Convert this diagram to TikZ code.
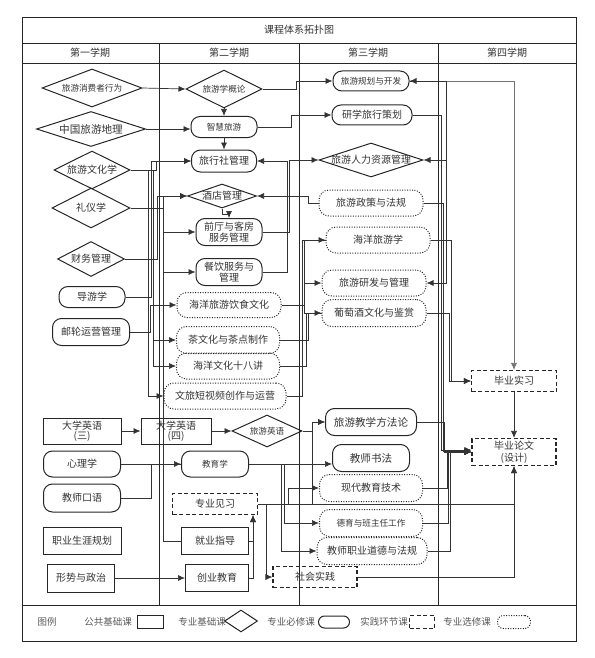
\documentclass[tikz,border=0pt]{standalone}
\usepackage{fontspec}
\setmainfont{Noto Sans CJK SC}
\usetikzlibrary{shapes.geometric,arrows.meta}

\begin{document}
\begin{tikzpicture}[x=1pt,y=-1pt,>={Latex[length=7pt,width=6pt]},
    every node/.style={text=black!80,font=\fontsize{10}{12}\selectfont,inner sep=0pt,align=center},
    sz/.style 2 args={minimum width=#1,minimum height=#2},
    dsz/.style 2 args={minimum width=#1,minimum height=#2,/utils/exec={\pgfmathsetmacro\dasp{#1/#2}},aspect=\dasp},
    pub/.style={draw=black!85,line width=1pt,rectangle},
    basic/.style={draw=black!85,line width=1pt,diamond},
    req/.style={draw=black!85,line width=1pt,rectangle,rounded corners=9pt},
    prac/.style={draw=black!85,line width=1.1pt,rectangle,dash pattern=on 4pt off 2.5pt},
    elec/.style={draw=black!85,line width=1pt,rectangle,rounded corners=10pt,dash pattern=on 1pt off 1.5pt},
    fsm/.style={font=\fontsize{8.6}{10}\selectfont},
    fbg/.style={font=\fontsize{10.6}{12}\selectfont},
    lgd/.style={text=black!65,font=\fontsize{9.5}{11}\selectfont},
    ln/.style={draw=black!80,line width=0.7pt},
    tbl/.style={draw=black!85,line width=0.9pt}]
\useasboundingbox (0,0) rectangle (594,658);

% table
\draw[tbl] (22,17) rectangle (576,641);
\draw[tbl] (22,43) -- (576,43) (22,63) -- (576,63) (22,605) -- (576,605);
\draw[tbl] (159,43) -- (159,605) (299,43) -- (299,605) (438,43) -- (438,605);
\node (title) at (299,30) {课程体系拓扑图};
\node (t1) at (90,53) {第一学期};
\node (t2) at (229,53) {第二学期};
\node (t3) at (368,53) {第三学期};
\node (t4) at (507,53) {第四学期};

% first term
\node[basic,dsz={100}{38},fsm] (cb) at (92,88) {旅游消费者行为};
\node[basic,dsz={109}{35},fbg] (zg) at (91,129) {中国旅游地理};
\node[basic,dsz={76}{38}] (wh) at (92,170) {旅游文化学};
\node[basic,dsz={78}{40}] (ly) at (91,208) {礼仪学};
\node[basic,dsz={67}{35}] (cw) at (91,259) {财务管理};
\node[req,sz={66}{21}] (dy) at (92,297) {导游学};
\node[req,sz={77}{27}] (yl) at (91,332) {邮轮运营管理};
\node[pub,sz={78}{26},font=\fontsize{10}{10.5}\selectfont] (dx3) at (82,431) {大学英语\\(三)};
\node[req,sz={77}{26}] (xl) at (82,464) {心理学};
\node[req,sz={77}{28}] (ky) at (82,498) {教师口语};
\node[pub,sz={78}{27}] (zy) at (82,541) {职业生涯规划};
\node[pub,sz={67}{28}] (xs) at (81,578) {形势与政治};

% second term
\node[basic,dsz={76}{38},fsm] (gl) at (224,89) {旅游学概论};
\node[req,sz={66}{21},fsm] (zh) at (224,127) {智慧旅游};
\node[req,sz={65}{22}] (lx) at (224,161) {旅行社管理};
\node[basic,dsz={69}{24},inner xsep=-3pt] (jd) at (222,196) {酒店管理};
\node[req,sz={66}{27},font=\fontsize{10}{11.5}\selectfont] (qt) at (229,232) {前厅与客房\\服务管理};
\node[req,sz={66}{27},font=\fontsize{10}{11.5}\selectfont] (cy) at (229,272) {餐饮服务与\\管理};
\node[elec,sz={104}{25}] (hy) at (229,305) {海洋旅游饮食文化};
\node[elec,sz={103}{27}] (cwh) at (228,340) {茶文化与茶点制作};
\node[elec,sz={103}{26}] (hw) at (228,366) {海洋文化十八讲};
\node[elec,sz={122}{26}] (dsp) at (225,396) {文旅短视频创作与运营};
\node[pub,sz={70}{26},font=\fontsize{10}{10.5}\selectfont] (dx4) at (176,431) {大学英语\\(四)};
\node[basic,dsz={70}{32},fsm] (lyy) at (267,431) {旅游英语};
\node[req,sz={67}{26},fsm] (jy) at (215,464) {教育学};
\node[prac,sz={85}{21}] (zx) at (215,504) {专业见习};
\node[pub,sz={67}{27}] (jz) at (215,541) {就业指导};
\node[pub,sz={63}{27}] (cx) at (217,578) {创业教育};

% third term
\node[req,sz={76}{20},fsm] (gh) at (371,81) {旅游规划与开发};
\node[req,sz={80}{20}] (yx) at (372,115) {研学旅行策划};
\node[basic,dsz={104}{34},inner xsep=-8pt] (hr) at (371,160) {旅游人力资源管理};
\node[elec,sz={104}{26}] (zc) at (371,203) {旅游政策与法规};
\node[elec,sz={104}{26}] (hyx) at (378,240) {海洋旅游学};
\node[elec,sz={104}{26}] (yf) at (374,283) {旅游研发与管理};
\node[elec,sz={104}{27}] (ptj) at (374,313) {葡萄酒文化与鉴赏};
\node[req,sz={91}{27},fbg] (jf) at (371,422) {旅游教学方法论};
\node[req,sz={77}{27},fbg] (js) at (371,458) {教师书法};
\node[elec,sz={103}{27}] (xd) at (371,488) {现代教育技术};
\node[elec,sz={103}{27},fsm] (db) at (371,523) {德育与班主任工作};
\node[elec,sz={110}{27}] (zd) at (372,551) {教师职业道德与法规};
\node[prac,sz={84}{21}] (sj) at (315,577) {社会实践};

% fourth term
\node[prac,sz={85}{21}] (sx) at (514,381) {毕业实习};
\node[prac,sz={84}{27},font=\fontsize{10}{11.5}\selectfont] (bl) at (514,452) {毕业论文\\(设计)};

% first -> second
\draw[ln,->] (cb.east) -- (gl.west);
\draw[ln,->] (zg.east) -- (zg.east -| zh.west);
\draw[ln,->] (wh.east) -- (156,170) |- (lx.west);
\draw[ln,->] (wh.east) -- (153,170) |- (cwh.west);
\draw[ln,->] (wh.east) -- (153,170) |- (hw.west);
\draw[ln,->] (wh.east) -- (148,170) |- (dsp.west);
\draw[ln,->] (ly.east) -- (163,208) |- (jd.west);
\draw[ln,->] (ly.east) -- (163,208) |- (qt.west);
\draw[ln,->] (ly.east) -- (163,208) |- (cy.west);
\draw[ln] (ly.east) -- (163,208) |- (jz.west);
\draw[ln,->] (cw.east) -- (157,259) |- (jd.west);
\draw[ln,->] (dy.east) -- (151,297) |- (lx.west);
\draw[ln,->] (yl.east) -- (150,332) |- (hy.west);

% inside second term
\draw[ln,->] (gl.south) -- (zh.north);
\draw[ln,->] (zh.south) -- (lx.north);
\draw[ln,->] (jd.south) -- ++(0,6) -| (qt.north);

% second -> third
\draw[ln,->] (gl.east) -- (296,89) |- (gh.west);
\draw[ln,->] (zh.east) -- (291,127) |- (yx.west);
\draw[ln,->] (qt.east) -- (289,232) |- (hr.west);
\draw[ln,->] (cy.east) -- (287,272) |- (lx.east);
\draw[ln,->] (zc.west) -- (308,203) |- (jd.east);
\draw[ln,->] (hy.east) -- (304,305) |- (hyx.west);
\draw[ln,->] (hy.east) -- (304,305) |- (yf.west);
\draw[ln,->] (hy.east) -- (304,305) |- (ptj.west);
\draw[ln] (cwh.east) -- (308,340) |- (ptj.west);
\draw[ln] (hw.east) -- (306,366) |- (ptj.west);
\draw[ln] (dsp.east) -- (302,396) |- (hyx.west);

% third -> fourth
\draw[ln,draw=black!55,->] (gh.east) -| (sx.north);
\draw[ln,<->] (gh.east) -- (446,81) |- (hr.east);
\draw[ln,->] (gh.east) -- (446,81) |- (yf.east);
\draw[ln,->] (yx.east) -- (441,115) |- ([yshift=2pt]bl.west);
\draw[ln,->] (zc.east) -- (443,203) |- ([yshift=1pt]bl.west);
\draw[ln,->] (hyx.east) -- (451,240) |- (sx.west);
\draw[ln,->] (ptj.east) -- (449,313) |- (sx.west);
\draw[ln,->] (jf.east) -- (444,422) |- (bl.west);
\draw[ln,->] (xd.east) -- (447,488) |- (bl.west);
\draw[ln,->] (db.east) -- (448,523) |- (bl.west);
\draw[ln,->] (zd.east) -- (450,551) |- (bl.west);
\draw[ln,->] (sx.south) -- (bl.north);

% lower rows
\draw[ln,->] (dx3.east) -- (dx4.west);
\draw[ln,->] (dx4.east) -- (lyy.west);
\draw[ln,->] (lyy.east) -- (312,431) |- (jf.west);
\draw[ln,->] (xl.east) -- (jy.west);
\draw[ln] (ky.east) -- (151,498) |- (jy.west);
\draw[ln,->] (jy.east) -- (jy.east -| js.west);
\draw[ln,->] (jy.east) -- (284,464) |- (db.west);
\draw[ln,->] (jy.east) -- (281,464) |- (zd.west);
\draw[ln,->] (zx.east) -- (288,504) |- (xd.west);
\draw[ln,->] (zx.east) -- (312,504) |- (jf.west);
\draw[ln,->] (zx.east) -| (bl.south);
\draw[ln,->] (zx.east) -- (266,504) |- (sj.west);
\draw[ln,->] (sj.east) -| (bl.south);
\draw[ln,->] (jz.east) -| ([xshift=38pt]zx.south);
\draw[ln,->] (cx.east) -| ([xshift=38pt]zx.south);
\draw[ln,->] (xs.east) -- (cx.west);

% legend
\node[lgd] (lg) at (47,622) {图例};
\node[lgd] (lg1) at (108,622) {公共基础课};
\node[pub,sz={26}{13}] (k1) at (150,622) {};
\node[lgd] (lg2) at (202,622) {专业基础课};
\node[basic,dsz={33}{22}] (k2) at (241,621) {};
\node[lgd] (lg3) at (291,622) {专业必修课};
\node[req,sz={31}{12},rounded corners=6pt] (k3) at (334,622) {};
\node[lgd] (lg4) at (384,622) {实践环节课};
\node[prac,sz={25}{13}] (k4) at (422,622) {};
\node[lgd] (lg5) at (467,622) {专业选修课};
\node[elec,sz={33}{13},rounded corners=6pt] (k5) at (514,622) {};
\end{tikzpicture}
\end{document}
